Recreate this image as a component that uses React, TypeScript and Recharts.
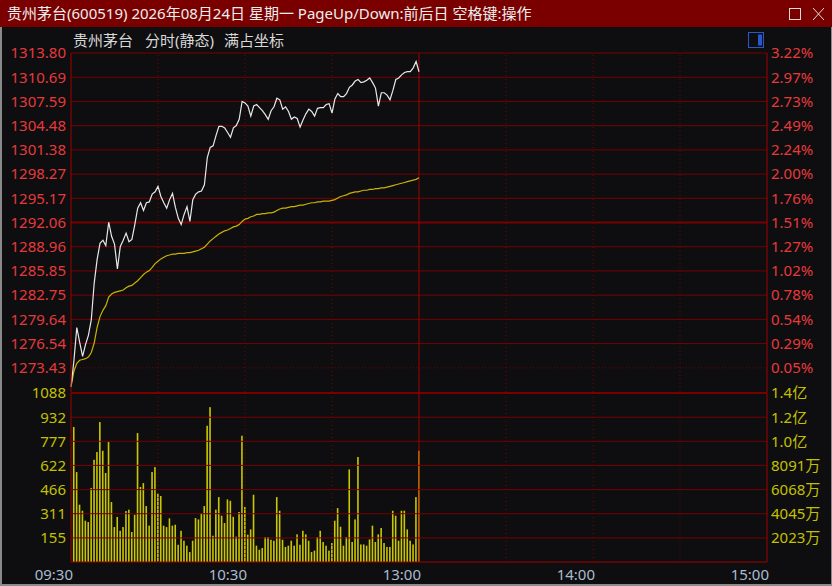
import { ComposedChart, Line, Bar, XAxis, YAxis, ReferenceLine } from 'recharts';

// 分时数据：09:30 起每分钟一个点（上午盘 121 个点）
const prices = [
  1271.0, 1274.3, 1278.6, 1276.7, 1274.9, 1276.4, 1277.6, 1279.6, 1284.3, 1287.3,
  1289.4, 1289.8, 1289.1, 1292.1, 1290.3, 1289.3, 1286.1, 1289.0, 1289.8, 1290.7,
  1289.6, 1289.9, 1291.8, 1293.9, 1294.6, 1293.6, 1294.6, 1294.7, 1295.7, 1296.0,
  1296.7, 1295.4, 1294.6, 1293.9, 1295.0, 1295.8, 1294.0, 1292.6, 1291.8, 1293.1,
  1294.1, 1292.2, 1295.0, 1295.7, 1296.0, 1296.1, 1296.9, 1300.4, 1301.7, 1301.9,
  1303.2, 1304.4, 1304.4, 1304.2, 1303.6, 1303.0, 1304.2, 1304.5, 1305.3, 1307.6,
  1307.4, 1307.0, 1305.7, 1307.0, 1307.2, 1306.8, 1306.4, 1305.9, 1305.3, 1306.4,
  1306.9, 1308.0, 1307.8, 1306.6, 1306.9, 1306.3, 1305.3, 1305.6, 1305.4, 1304.3,
  1305.2, 1306.0, 1306.6, 1306.3, 1305.7, 1306.7, 1306.8, 1306.8, 1307.2, 1307.3,
  1306.1, 1307.9, 1308.6, 1308.2, 1308.2, 1308.6, 1309.4, 1309.7, 1310.2, 1310.4,
  1310.0, 1310.1, 1310.3, 1310.6, 1310.0, 1309.3, 1307.0, 1308.7, 1308.7, 1308.4,
  1307.8, 1309.0, 1310.4, 1310.6, 1311.0, 1311.3, 1311.4, 1311.4, 1311.9, 1312.7, 1311.4,
];

// 均价线
const avgPrices = [
  1271.0, 1273.0, 1274.0, 1274.4, 1274.5, 1274.6, 1274.8, 1275.4, 1276.6, 1278.6,
  1280.0, 1280.8, 1281.4, 1282.5, 1282.9, 1283.1, 1283.2, 1283.3, 1283.4, 1283.7,
  1283.9, 1284.0, 1284.3, 1284.6, 1285.0, 1285.4, 1285.7, 1285.9, 1286.3, 1286.8,
  1287.1, 1287.4, 1287.6, 1287.8, 1287.9, 1288.0, 1288.0, 1288.1, 1288.1, 1288.1,
  1288.2, 1288.2, 1288.3, 1288.4, 1288.5, 1288.7, 1288.9, 1289.3, 1289.7, 1290.0,
  1290.3, 1290.6, 1290.8, 1291.0, 1291.1, 1291.3, 1291.5, 1291.6, 1291.8, 1292.2,
  1292.5, 1292.6, 1292.8, 1292.9, 1293.1, 1293.1, 1293.2, 1293.2, 1293.3, 1293.3,
  1293.4, 1293.6, 1293.8, 1293.9, 1293.9, 1294.0, 1294.1, 1294.1, 1294.2, 1294.3,
  1294.3, 1294.4, 1294.5, 1294.6, 1294.6, 1294.7, 1294.7, 1294.8, 1294.8, 1294.8,
  1294.9, 1295.0, 1295.2, 1295.4, 1295.5, 1295.6, 1295.8, 1295.9, 1296.0, 1296.0,
  1296.1, 1296.2, 1296.2, 1296.3, 1296.3, 1296.4, 1296.4, 1296.5, 1296.5, 1296.6,
  1296.7, 1296.8, 1296.9, 1297.0, 1297.1, 1297.2, 1297.3, 1297.4, 1297.5, 1297.6, 1297.8,
];

// 成交量（手），09:31 起每分钟一根
const volumes = [
  869, 579, 369, 330, 266, 257, 476, 658, 708, 901,
  716, 573, 772, 386, 225, 290, 201, 225, 328, 337,
  193, 304, 830, 483, 508, 360, 234, 579, 611, 441,
  425, 234, 225, 281, 234, 240, 111, 201, 137, 105,
  64, 137, 283, 274, 315, 360, 877, 997, 169, 337,
  418, 298, 251, 403, 394, 291, 163, 322, 813, 354,
  176, 210, 433, 105, 79, 90, 161, 161, 143, 137,
  418, 330, 143, 97, 105, 137, 105, 178, 111, 201,
  178, 137, 64, 73, 161, 201, 129, 105, 73, 122,
  266, 347, 227, 105, 161, 596, 129, 274, 676, 113,
  113, 105, 145, 234, 129, 178, 219, 122, 97, 97,
  330, 298, 137, 330, 330, 210, 137, 113, 418, 716,
];

const priceTicks = [1313.80, 1310.69, 1307.59, 1304.48, 1301.38, 1298.27, 1295.17, 1292.06, 1288.96, 1285.85, 1282.75, 1279.64, 1276.54, 1273.43];
const pctLabels = ['3.22%', '2.97%', '2.73%', '2.49%', '2.24%', '2.00%', '1.76%', '1.51%', '1.27%', '1.02%', '0.78%', '0.54%', '0.29%', '0.05%'];
const volTicks = [1088, 932, 777, 622, 466, 311, 155];
const amountLabels = ['1.4亿', '1.2亿', '1.0亿', '8091万', '6068万', '4045万', '2023万'];
const timeTicks = [0, 60, 120, 180, 240];
const timeLabels = ['09:30', '10:30', '13:00', '14:00', '15:00'];
const halfHours = [30, 60, 90, 150, 180, 210];

const rows = prices.map((p, i) => ({
  t: i,
  price: p,
  avg: avgPrices[i],
  vol: i > 0 ? volumes[i - 1] : null,
}));

const BG = '#0e0e11';
const GRID = '#780000';
const AXIS = '#a00000';
const FONT = '"Noto Sans", "Noto Sans CJK SC", sans-serif';

const TimeTick = (props: any) => {
  const { x, y, payload } = props;
  return (
    <text x={x + 2} y={y + 16} textAnchor="end" fill="#a9bccf" fontSize={15} fontFamily={FONT}>
      {timeLabels[timeTicks.indexOf(payload.value)]}
    </text>
  );
};

// 细柱：每分钟一根竖线
const VolBar = (props: any) => {
  const { x, y, width, height, fill } = props;
  if (!height || height <= 0) return null;
  const cx = x + width / 2;
  return <rect x={cx - 0.8} y={y} width={1.6} height={height} fill={fill} />;
};

const App = () => {
  return (
    <div style={{ position: 'absolute', left: 0, top: 0, width: 832, height: 586, background: BG, overflow: 'hidden', fontFamily: FONT }}>
      {/* 标题栏 */}
      <div style={{ position: 'absolute', left: 0, top: 0, width: 832, height: 27, background: '#7a0000' }}>
        <div style={{ position: 'absolute', left: 7, top: 0, lineHeight: '27px', fontSize: 15, color: '#eeeeee', whiteSpace: 'nowrap' }}>
          贵州茅台(600519) 2026年08月24日 星期一 PageUp/Down:前后日 空格键:操作
        </div>
        <svg width={832} height={27} style={{ position: 'absolute', left: 0, top: 0 }}>
          <rect x={789.5} y={8.5} width={11} height={11} fill="none" stroke="#dddddd" />
          <line x1={813} y1={8} x2={824} y2={20} stroke="#dddddd" />
          <line x1={824} y1={8} x2={813} y2={20} stroke="#dddddd" />
        </svg>
      </div>

      {/* 副标题 */}
      <div style={{ position: 'absolute', left: 73, top: 30, lineHeight: '20px', fontSize: 15, color: '#d8d8d8', whiteSpace: 'nowrap' }}>贵州茅台</div>
      <div style={{ position: 'absolute', left: 145, top: 30, lineHeight: '20px', fontSize: 15, color: '#d8d8d8', whiteSpace: 'nowrap' }}>分时(静态)</div>
      <div style={{ position: 'absolute', left: 224, top: 30, lineHeight: '20px', fontSize: 15, color: '#d8d8d8', whiteSpace: 'nowrap' }}>满占坐标</div>
      <svg width={20} height={20} style={{ position: 'absolute', left: 746, top: 30 }}>
        <rect x={2.5} y={2.5} width={15} height={15} fill="none" stroke="#2a58c8" />
        <rect x={12} y={4.5} width={4} height={11} fill="#2a58c8" />
      </svg>

      {/* 价格区 */}
      <div style={{ position: 'absolute', left: 0, top: 0 }}>
        <ComposedChart width={832} height={392} data={rows} margin={{ top: 53, right: 0, bottom: 0, left: 0 }}>
          <XAxis type="number" dataKey="t" domain={[0, 240]} hide />
          <YAxis
            yAxisId="l"
            orientation="left"
            width={71}
            domain={[1270.33, 1313.8]}
            allowDataOverflow
            ticks={priceTicks}
            interval={0}
            tickLine={false}
            tickSize={0}
            tickMargin={5}
            axisLine={{ stroke: AXIS }}
            tick={{ fill: '#e63a3a', fontSize: 15, fontFamily: FONT }}
            tickFormatter={(v: number) => v.toFixed(2)}
          />
          <YAxis
            yAxisId="r"
            orientation="right"
            width={65}
            domain={[1270.33, 1313.8]}
            allowDataOverflow
            ticks={priceTicks}
            interval={0}
            tickLine={false}
            tickSize={0}
            tickMargin={4}
            axisLine={{ stroke: AXIS }}
            tick={{ fill: '#e63a3a', fontSize: 15, fontFamily: FONT, textAnchor: 'start' }}
            tickFormatter={(v: number) => pctLabels[priceTicks.indexOf(v)]}
          />
          {priceTicks.map((v) => (
            <ReferenceLine
              key={v}
              yAxisId="l"
              y={v}
              stroke={GRID}
              strokeWidth={v === 1292.06 ? 2 : 1}
              strokeDasharray={v === 1273.43 ? '1 2' : undefined}
            />
          ))}
          {halfHours.map((t) => (
            <ReferenceLine key={t} yAxisId="l" x={t} stroke={GRID} strokeDasharray="1 3" />
          ))}
          <ReferenceLine yAxisId="l" x={120} stroke={AXIS} />
          <Line yAxisId="l" type="linear" dataKey="avg" stroke="#c9b200" strokeWidth={1.2} dot={false} isAnimationActive={false} />
          <Line yAxisId="l" type="linear" dataKey="price" stroke="#e8e8e8" strokeWidth={1.2} dot={false} isAnimationActive={false} />
        </ComposedChart>
      </div>

      {/* 成交量区 */}
      <div style={{ position: 'absolute', left: 0, top: 0 }}>
        <ComposedChart width={832} height={586} data={rows} margin={{ top: 393, right: 0, bottom: 0, left: 0 }}>
          <XAxis
            type="number"
            dataKey="t"
            domain={[0, 240]}
            ticks={timeTicks}
            interval={0}
            height={24}
            tickLine={false}
            tickSize={0}
            axisLine={{ stroke: AXIS }}
            tick={<TimeTick />}
          />
          <YAxis
            yAxisId="l"
            orientation="left"
            width={71}
            domain={[0, 1088]}
            allowDataOverflow
            ticks={volTicks}
            interval={0}
            tickLine={false}
            tickSize={0}
            tickMargin={5}
            axisLine={{ stroke: AXIS }}
            tick={{ fill: '#c4c000', fontSize: 15, fontFamily: FONT }}
          />
          <YAxis
            yAxisId="r"
            orientation="right"
            width={65}
            domain={[0, 1088]}
            allowDataOverflow
            ticks={volTicks}
            interval={0}
            tickLine={false}
            tickSize={0}
            tickMargin={4}
            axisLine={{ stroke: AXIS }}
            tick={{ fill: '#c4c000', fontSize: 15, fontFamily: FONT, textAnchor: 'start' }}
            tickFormatter={(v: number) => amountLabels[volTicks.indexOf(v)]}
          />
          {volTicks.map((v) => (
            <ReferenceLine key={v} yAxisId="l" y={v} stroke={GRID} strokeWidth={v === 1088 ? 2 : 1} />
          ))}
          {halfHours.map((t) => (
            <ReferenceLine key={t} yAxisId="l" x={t} stroke={GRID} strokeDasharray="1 3" />
          ))}
          <ReferenceLine yAxisId="l" x={120} stroke={AXIS} />
          <Bar yAxisId="l" dataKey="vol" fill="#cac600" shape={<VolBar />} isAnimationActive={false} />
        </ComposedChart>
      </div>

      {/* 窗口边框 */}
      <div style={{ position: 'absolute', left: 0, top: 27, width: 2, height: 559, background: '#8a8a8a' }} />
      <div style={{ position: 'absolute', left: 831, top: 27, width: 1, height: 559, background: '#8a8a8a' }} />
      <div style={{ position: 'absolute', left: 0, top: 584, width: 832, height: 2, background: '#8a8a8a' }} />
    </div>
  );
};

export default App;
